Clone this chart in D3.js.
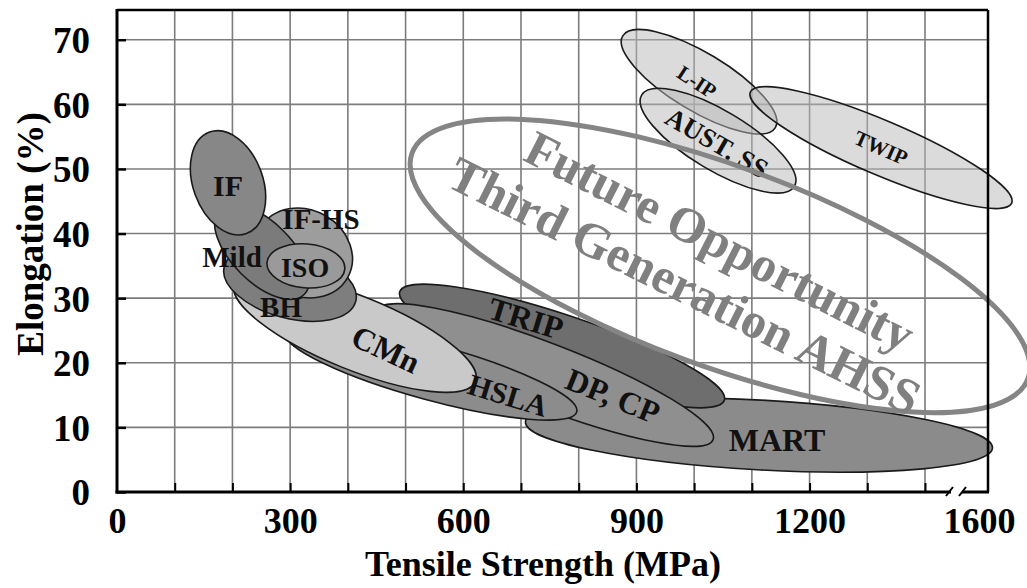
<!DOCTYPE html>
<html>
<head>
<meta charset="utf-8">
<script src="https://cdn.jsdelivr.net/npm/d3@7"></script>
<style>
  body { margin: 0; background: #fff; }
  svg { display: block; }
  text { font-family: "Liberation Serif", "Times New Roman", serif; font-weight: bold; }
</style>
</head>
<body>
<svg id="chart" width="1027" height="588"></svg>
<script>
// ---- Data -------------------------------------------------------------
// Conventional and first/second generation AHSS grades (drawn back to front).
// Each band is an ellipse given by the two ends of its long axis
// [tensile strength MPa, total elongation %] and its half-width in elongation %.
const grades      = ["MART", "TRIP", "DP, CP", "HSLA", "CMn", "BH", "IF-HS", "Mild", "ISO", "IF"];
const gradeFrom   = [[707.7, 10.86], [489.9, 31.0], [450.5, 28.1], [291.6, 24.7], [203.6, 32.2],
                     [185.9, 34.9], [249.0, 40.9], [177.8, 43.7], [259.9, 35.5], [160.3, 55.7]];
const gradeTo     = [[1650, 6.8], [1052.3, 14.2], [1032.8, 8.1], [796.6, 12.4], [621.2, 17.1],
                     [413.6, 29.5], [399.1, 33.1], [324.7, 30.6], [394.7, 34.5], [224.4, 40.0]];
const gradeHalf   = [5.4, 4.8, 5.0, 4.3, 5.7, 5.3, 6.66, 4.65, 3.4, 5.4];
const gradeLabel  = [[1143.6, 8.05], [708.7, 26.9], [859.5, 14.9], [677.5, 15.0], [466.1, 22.1],
                     [284.2, 28.65], [353.5, 42.3], [199.3, 36.4], [325.8, 34.8], [192.3, 47.5]];

// Austenitic grades (second generation)
const austGrades  = ["L-IP", "AUST. SS", "TWIP"];
const austFrom    = [[876.3, 70.6], [909.2, 61.45], [1097.4, 61.9]];
const austTo      = [[1140.7, 56.4], [1173.6, 47.3], [1721, 44.7]];
const austHalf    = [4.5, 4.6, 4.2];
const austLabel   = [[1005, 63.5], [1039.7, 54.05], [1323.9, 53.3]];

// Third generation AHSS target window
const futureFrom  = [511.2, 52.45];
const futureTo    = [1781.5, 17.55];
const futureHalf  = 15.5;
const futureLines = ["Future Opportunity", "Third Generation AHSS"];
const futureLabel = [[1045, 38.9], [984.2, 32.0]];

// Axes
const xTickValues = [0, 300, 600, 900, 1200, 1600];
const xGridValues = d3.range(100, 1401, 100);
const yTickValues = d3.range(0, 71, 10);
const xTitle = "Tensile Strength (MPa)";
const yTitle = "Elongation (%)";

// ---- Styles -----------------------------------------------------------
const fills = {
  "MART": "#8b8b8b", "TRIP": "#6e6e6e", "DP, CP": "#8f8f8f", "HSLA": "#8c8c8c",
  "CMn": "#c9c9c9", "BH": "#7e7e7e", "IF-HS": "#9d9d9d", "Mild": "#7b7b7b",
  "ISO": "#9a9a9a", "IF": "#878787"
};
const labelStyle = {
  "MART": [32, 0], "TRIP": [32, 17], "DP, CP": [32, 22], "HSLA": [30, 17], "CMn": [32, 25],
  "BH": [29, 0], "IF-HS": [29, 0], "Mild": [29, 0], "ISO": [28, 0], "IF": [30, 0],
  "L-IP": [21, 33], "AUST. SS": [27, 30], "TWIP": [21, 24]
};
const futureAngles = [26.9, 26.4];

// ---- Layout -----------------------------------------------------------
const plotL = 117, plotR = 988, plotT = 10, plotB = 492;
const svg = d3.select("#chart");

// Broken x axis: 0-1400 linear, then compressed up to 1600
const x = d3.scaleLinear().domain([0, 1400, 1600]).range([plotL, 925, 979]);
const y = d3.scaleLinear().domain([0, 74.6]).range([plotB, plotT]);

function geom(p1, p2, half) {
  const x1 = x(p1[0]), y1 = y(p1[1]), x2 = x(p2[0]), y2 = y(p2[1]);
  return {
    cx: (x1 + x2) / 2, cy: (y1 + y2) / 2,
    rx: Math.hypot(x2 - x1, y2 - y1) / 2,
    ry: y(0) - y(half),
    ang: Math.atan2(y2 - y1, x2 - x1) * 180 / Math.PI
  };
}

// Grid
const grid = svg.append("g").attr("stroke", "#7c7c7c").attr("stroke-width", 1.6);
grid.selectAll("line.v").data(xGridValues).join("line").attr("class", "v")
  .attr("x1", d => x(d)).attr("x2", d => x(d)).attr("y1", plotT).attr("y2", plotB);
grid.selectAll("line.h").data(yTickValues.filter(d => d > 0)).join("line").attr("class", "h")
  .attr("x1", plotL).attr("x2", plotR).attr("y1", d => y(d)).attr("y2", d => y(d));

// Grade bands
const bands = svg.append("g");
grades.forEach((g, i) => {
  const e = geom(gradeFrom[i], gradeTo[i], gradeHalf[i]);
  bands.append("ellipse")
    .attr("transform", `translate(${e.cx},${e.cy}) rotate(${e.ang})`)
    .attr("rx", e.rx).attr("ry", e.ry)
    .attr("fill", fills[g]).attr("stroke", "#1a1a1a").attr("stroke-width", 1.6);
});
austGrades.forEach((g, i) => {
  const e = geom(austFrom[i], austTo[i], austHalf[i]);
  bands.append("ellipse")
    .attr("transform", `translate(${e.cx},${e.cy}) rotate(${e.ang})`)
    .attr("rx", e.rx).attr("ry", e.ry)
    .attr("fill", "#b8b8b8").attr("fill-opacity", 0.5)
    .attr("stroke", "#1a1a1a").attr("stroke-width", 1.6);
});

// Grade labels
const labels = svg.append("g").attr("fill", "#111");
function addLabel(name, pos) {
  const [size, rot] = labelStyle[name];
  labels.append("text")
    .attr("transform", `translate(${x(pos[0])},${y(pos[1])}) rotate(${rot})`)
    .attr("text-anchor", "middle").attr("dy", "0.35em")
    .attr("font-size", size).text(name);
}
grades.forEach((g, i) => addLabel(g, gradeLabel[i]));
austGrades.forEach((g, i) => addLabel(g, austLabel[i]));

// Third generation window
const f = geom(futureFrom, futureTo, futureHalf);
svg.append("ellipse")
  .attr("transform", `translate(${f.cx},${f.cy}) rotate(${f.ang})`)
  .attr("rx", f.rx).attr("ry", f.ry)
  .attr("fill", "none").attr("stroke", "#858585").attr("stroke-width", 5);
futureLines.forEach((t, i) => {
  svg.append("text")
    .attr("transform", `translate(${x(futureLabel[i][0])},${y(futureLabel[i][1])}) rotate(${futureAngles[i]})`)
    .attr("text-anchor", "middle").attr("dy", "0.35em")
    .attr("font-size", 50).attr("fill", "#808080").text(t);
});

// Plot frame
const frame = svg.append("g").attr("stroke", "#000").attr("fill", "none");
frame.append("line").attr("x1", plotL).attr("x2", plotR).attr("y1", plotT).attr("y2", plotT).attr("stroke-width", 2.5);
frame.append("line").attr("x1", plotR).attr("x2", plotR).attr("y1", plotT).attr("y2", plotB).attr("stroke-width", 2.5);
frame.append("line").attr("x1", plotL).attr("x2", plotL).attr("y1", plotT - 1).attr("y2", plotB + 1.5).attr("stroke-width", 3);
frame.append("line").attr("x1", plotL - 1.5).attr("x2", plotR + 1).attr("y1", plotB).attr("y2", plotB).attr("stroke-width", 3);

// Axes
const xAxis = d3.axisBottom(x).tickValues(xGridValues.concat(xTickValues.filter(v => v === 0 || v > 1400)))
  .tickSizeInner(-9).tickSizeOuter(0).tickPadding(15)
  .tickFormat(d => xTickValues.includes(d) ? d : "");
const gx = svg.append("g").attr("transform", `translate(0,${plotB})`).call(xAxis);
gx.select(".domain").remove();
gx.selectAll(".tick line").attr("stroke", "#000").attr("stroke-width", 2)
  .filter(d => d === 0 || d > 1400).remove();
gx.selectAll(".tick text").attr("font-size", 36).attr("fill", "#000")
  .attr("font-family", "Liberation Serif, Times New Roman, serif").attr("font-weight", "bold");

const yAxis = d3.axisLeft(y).tickValues(yTickValues).tickSizeInner(-9).tickSizeOuter(0).tickPadding(27);
const gy = svg.append("g").attr("transform", `translate(${plotL},0)`).call(yAxis);
gy.select(".domain").remove();
gy.selectAll(".tick line").attr("stroke", "#000").attr("stroke-width", 2.5);
gy.selectAll(".tick text").attr("font-size", 37).attr("fill", "#000").attr("dy", "0.35em")
  .attr("font-family", "Liberation Serif, Times New Roman, serif").attr("font-weight", "bold");

// Axis break marks
const brk = svg.append("g");
brk.append("rect").attr("x", 951).attr("y", plotB - 3).attr("width", 11).attr("height", 6).attr("fill", "#fff");
[949, 962].forEach(bx => brk.append("line")
  .attr("x1", bx - 3).attr("y1", plotB + 4).attr("x2", bx + 4).attr("y2", plotB - 5)
  .attr("stroke", "#000").attr("stroke-width", 2));

// Axis titles
svg.append("text").attr("x", 543).attr("y", 576).attr("text-anchor", "middle")
  .attr("font-size", 36).attr("fill", "#000").text(xTitle);
svg.append("text").attr("transform", `translate(30,234) rotate(-90)`)
  .attr("text-anchor", "middle").attr("dy", "0.35em")
  .attr("font-size", 37).attr("fill", "#000").text(yTitle);
</script>
</body>
</html>
